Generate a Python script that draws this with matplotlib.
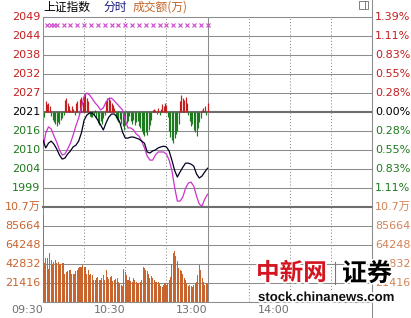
import matplotlib
matplotlib.use('Agg')
import matplotlib.pyplot as plt
from matplotlib.transforms import blended_transform_factory
from matplotlib.lines import Line2D
from matplotlib.patches import Rectangle
import matplotlib.patheffects as pe

# ---------------- data ----------------
prev_close = 2021.2
pct_step = 0.2775          # percent per grid row

price_labels_left = ['2049', '2044', '2038', '2032', '2027', '2021', '2016', '2010', '2004', '1999']
pct_labels_right = ['1.39%', '1.11%', '0.83%', '0.55%', '0.28%', '0.00%', '0.28%', '0.55%', '0.83%', '1.11%']
level_steps = [5, 4, 3, 2, 1, 0, -1, -2, -3, -4]

vol_ticks = [107080, 85664, 64248, 42832, 21416]
vol_labels = ['10.7万', '85664', '64248', '42832', '21416']

time_ticks = [0, 60, 120, 180]
time_labels = ['09:30', '10:30', '13:00', '14:00']

# minutes after 09:30 (lunch break removed) for the two index lines
line_minutes = list(range(0, 121, 2))
index_weighted = [2012.9, 2010.6, 2012.0, 2012.6, 2011.7, 2010.3, 2008.5, 2007.3, 2007.6, 2008.8,
                  2009.7, 2010.9, 2011.4, 2012.6, 2015.0, 2018.8, 2020.3, 2020.9, 2020.9, 2020.0,
                  2018.8, 2017.4, 2015.9, 2018.0, 2019.7, 2020.6, 2020.6, 2019.7, 2018.2, 2015.3,
                  2013.5, 2013.5, 2013.8, 2013.8, 2013.5, 2013.2, 2012.6, 2012.0, 2009.4, 2009.1,
                  2009.7, 2010.0, 2010.6, 2010.9, 2011.1, 2010.9, 2009.7, 2007.0, 2004.0, 2002.0,
                  2003.5, 2004.9, 2006.1, 2006.1, 2005.8, 2005.2, 2002.9, 2001.7, 2002.3, 2003.5,
                  2004.6]
index_unweighted = [2010.6, 2015.0, 2016.8, 2016.2, 2014.1, 2012.3, 2010.0, 2008.5, 2008.8, 2010.3,
                    2012.0, 2014.4, 2017.1, 2019.4, 2022.4, 2025.9, 2026.8, 2026.2, 2025.1, 2023.9,
                    2023.0, 2021.8, 2022.4, 2024.2, 2025.1, 2025.3, 2024.5, 2023.6, 2022.7, 2021.8,
                    2018.8, 2016.5, 2016.5, 2015.9, 2014.7, 2014.1, 2012.6, 2010.6, 2008.2, 2007.0,
                    2007.0, 2008.5, 2009.4, 2009.4, 2009.4, 2008.8, 2007.0, 2004.0, 1999.0, 1994.9,
                    1994.9, 1996.1, 1998.7, 2000.2, 2000.5, 1999.3, 1996.4, 1994.0, 1993.4, 1995.5,
                    1996.9]

# per-minute data
bar_minutes = list(range(0, 121))
power_bars = [-2.4, -1.5, 3.2, 2.4, 2.7, 1.8, -1.2, -2.4, -3.0, -3.5,
              -4.1, -3.0, -3.5, -2.4, -1.8, -0.9, 3.5, 4.1, 2.7, 1.8,
              0.6, 1.8, 0.9, -0.9, 2.7, 3.2, -0.6, 3.8, 4.4, 3.0,
              4.7, 5.3, 4.1, 3.2, -1.2, -1.5, -1.5, -0.9, 0.6, -1.8,
              -3.2, -3.8, -2.7, -3.5, -1.8, -0.9, 3.2, 4.1, 4.4, 3.5,
              2.7, 2.1, 1.2, -1.8, -2.4, -3.0, -2.1, -3.5, -4.1, -5.3,
              -3.8, -3.2, -2.7, -1.2, -2.7, -3.5, -2.4, -3.8, -3.0, -2.7,
              -4.1, -4.7, -5.6, -6.5, -7.1, -5.9, -6.8, -5.3, -3.8, -2.4,
              0.6, 0.9, 0.6, -0.6, 1.2, -0.9, 0.9, 2.4, 1.8, 2.7,
              2.1, -1.5, -5.6, -7.4, -8.3, -9.1, -7.7, -6.5, -5.6, -3.5,
              3.2, 5.0, 4.1, 3.5, 4.4, 2.7, -0.9, -2.7, -4.1, -3.5,
              -5.3, -5.9, -7.1, -4.7, -3.0, -1.8, 0.6, 1.2, 1.8, -0.9,
              2.7]
volume = [98000, 44000, 50000, 50000, 37000, 55000, 47000, 43000, 45000, 47000,
          44000, 45000, 42000, 43000, 44000, 44000, 32000, 34000, 35000, 36000,
          36000, 31000, 32000, 32000, 35000, 36000, 38000, 40000, 40000, 42000,
          40000, 40000, 32000, 36000, 30000, 32000, 30000, 25000, 25000, 27000,
          28000, 25000, 25000, 27000, 30000, 25000, 36000, 28000, 26000, 28000,
          29000, 24000, 25000, 26000, 27000, 23000, 21000, 19000, 18000, 37000,
          34000, 30000, 25000, 28000, 24000, 23000, 27000, 25000, 23000, 21000,
          21000, 23000, 25000, 40000, 38000, 36000, 35000, 32000, 27000, 29000,
          27000, 25000, 23000, 22000, 23000, 20000, 18000, 17000, 19000, 21000,
          19000, 21000, 25000, 28000, 43000, 55000, 57000, 52000, 46000, 38000,
          36000, 35000, 32000, 27000, 25000, 21000, 18000, 19000, 18000, 17000,
          19000, 21000, 23000, 30000, 42000, 36000, 27000, 22000, 19000, 21000,
          20000]

marker_minutes = [3, 5.5, 8, 10.5, 15, 20, 25, 30, 35, 40, 45, 50, 55, 60, 65, 70,
                  75, 80, 85, 90, 95, 100, 105, 110, 115, 120]

# ---------------- style ----------------
RED = '#c41e1e'
GREEN = '#1e7a1e'
ORANGE = '#c8642d'
GRID = '#8c8c8c'
NUMFONT = ['DejaVu Sans', 'Noto Sans CJK SC']
CJK = ['Noto Sans CJK SC', 'DejaVu Sans']

W, H = 411, 318
def fx(px):
    return px / W
def fy(py):
    return 1 - py / H

fig = plt.figure(figsize=(W / 100, H / 100), dpi=100)
fig.patch.set_facecolor('white')

axp = fig.add_axes([fx(43), fy(207), fx(372) - fx(43), fy(17) - fy(207)])
axv = fig.add_axes([fx(43), fy(302), fx(372) - fx(43), fy(207) - fy(302)])

step = prev_close * pct_step / 100.0
axp.set_xlim(0, 240)
axp.set_ylim(prev_close - 5 * step, prev_close + 5 * step)
axv.set_xlim(0, 240)
axv.set_ylim(0, vol_ticks[0])

for ax in (axp, axv):
    ax.set_xticks([])
    ax.set_yticks([])
    for s in ax.spines.values():
        s.set_color(GRID)
        s.set_linewidth(0.75)
axp.spines['bottom'].set_visible(False)
axv.spines['top'].set_color('#6e6e6e')
axv.spines['top'].set_linewidth(1.5)

# horizontal grid
for k in level_steps:
    if k == 5:
        continue
    if k == 0:
        axp.axhline(prev_close, color='#6e6e6e', lw=1.5, zorder=0.5)
    else:
        axp.axhline(prev_close + k * step, color=GRID, lw=0.75, zorder=0.5)
for v in vol_ticks[1:]:
    axv.axhline(v, color=GRID, lw=0.75, zorder=0.5)

# vertical grid
for ax in (axp, axv):
    for m in [30, 60, 90, 150, 180, 210]:
        ax.axvline(m, color=GRID, lw=0.75, ls=(0, (1, 2)), zorder=0.5)
    ax.axvline(120, color=GRID, lw=0.75, zorder=0.5)

# right separator over full height
fig.add_artist(Line2D([fx(372), fx(372)], [0, 1], color=GRID, lw=0.75))

# power bars
cols = [RED if v >= 0 else GREEN for v in power_bars]
axp.vlines(bar_minutes, [prev_close] * len(power_bars),
           [prev_close + v for v in power_bars], colors=cols, lw=0.85, zorder=2)

# index lines
axp.plot(line_minutes, index_unweighted, color='#cc33cc', lw=0.9, zorder=3)
axp.plot(line_minutes, index_weighted, color='#000020', lw=0.9, zorder=4)

# x markers row
axp.plot(marker_minutes, [0.958] * len(marker_minutes), ls='none', marker='x',
         color='#cc44cc', ms=2.8, mew=0.8,
         transform=blended_transform_factory(axp.transData, axp.transAxes), zorder=3)

# volume bars (drawn above the spines so the first bar shows on the left edge)
axv.bar(bar_minutes, volume, width=0.75, color=ORANGE, lw=0, zorder=3)

# left / right labels for price
tl = blended_transform_factory(axp.transAxes, axp.transData)
for lab, plab, k in zip(price_labels_left, pct_labels_right, level_steps):
    c = RED if k > 0 else ('black' if k == 0 else GREEN)
    y = prev_close + k * step
    axp.text(-0.007, y, lab, transform=tl, ha='right', va='center', fontsize=8,
             color=c, family=NUMFONT)
    axp.text(1.009, y, plab, transform=tl, ha='left', va='center', fontsize=8,
             color=c, family=NUMFONT)

tv = blended_transform_factory(axv.transAxes, axv.transData)
for lab, v in zip(vol_labels, vol_ticks):
    axv.text(-0.007, v, lab, transform=tv, ha='right', va='center', fontsize=8,
             color=ORANGE, family=NUMFONT)
    axv.text(1.009, v, lab, transform=tv, ha='left', va='center', fontsize=8,
             color=ORANGE, family=NUMFONT, alpha=0.8)

# time labels
tt = blended_transform_factory(axv.transData, axv.transAxes)
for m, lab in zip(time_ticks, time_labels):
    axv.text(m, -0.085, lab, transform=tt, ha='right', va='center', fontsize=8,
             color='#707070', family=NUMFONT)

# title
fig.text(fx(43), fy(7), '上证指数', fontsize=8.5, family=CJK, ha='left', va='center', color='black')
fig.text(fx(103), fy(7), '分时', fontsize=8.5, family=CJK, ha='left', va='center', color='#1a1a80')
fig.text(fx(133), fy(7), '成交额(万)', fontsize=8.5, family=CJK, ha='left', va='center', color='#c06428')

# small icon top-right
fig.add_artist(Rectangle((fx(359), fy(9)), 9 / W, 8 / H, fill=False, ec='#808080', lw=0.7,
                         transform=fig.transFigure))
fig.add_artist(Line2D([fx(365), fx(365)], [fy(9), fy(1)], color='#808080', lw=0.7))

# watermark
stroke = [pe.withStroke(linewidth=2.5, foreground='white')]
fig.text(fx(256), fy(273), '中新网', fontsize=17, fontweight='bold', family=CJK, color='#d4141e',
         ha='left', va='center', path_effects=stroke)
fig.add_artist(Line2D([fx(335), fx(335)], [fy(284), fy(262)], color='#777777', lw=0.8))
fig.text(fx(342), fy(274), '证券', fontsize=18, fontweight='bold', family=CJK, color='black',
         ha='left', va='center', path_effects=stroke)
fig.text(fx(258), fy(298), 'stock.chinanews.com', fontsize=9.5, fontweight='bold',
         family=['Liberation Sans', 'DejaVu Sans'], color='#111111', ha='left', va='center',
         path_effects=stroke)

fig.savefig('out.png', dpi=100, facecolor='white')
